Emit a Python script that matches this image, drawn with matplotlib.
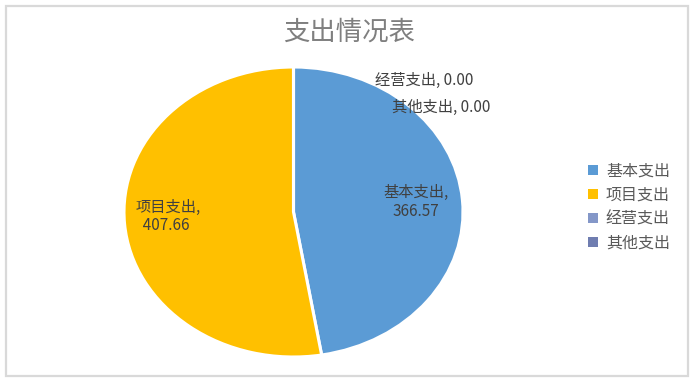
import matplotlib.pyplot as plt
from matplotlib.patches import Rectangle

plt.rcParams['font.family'] = ['Noto Sans CJK SC', 'DejaVu Sans']

categories = ["基本支出", "项目支出", "经营支出", "其他支出"]
values = [366.57, 407.66, 0.00, 0.00]
colors = ["#5B9BD5", "#FFC000", "#8497C8", "#6F7DB0"]

fig = plt.figure(figsize=(6.96, 3.83), dpi=100)

# outer chart frame
fig.patches.append(Rectangle((6 / 696, 7 / 383), 682 / 696, 370 / 383,
                             transform=fig.transFigure, fill=False,
                             edgecolor="#d9d9d9", linewidth=1.6))

ax = fig.add_axes([124 / 696, 26 / 383, 339 / 696, 290 / 383])
wedges, _ = ax.pie(values, colors=colors, startangle=90, counterclock=False,
                   wedgeprops=dict(edgecolor="white", linewidth=2.2))
ax.set_aspect("auto")
ax.set_xlim(-1, 1)
ax.set_ylim(-1, 1)

lab_color = "#404040"
fs = 11
ax.text(0.72, 0.07, f"{categories[0]},\n{values[0]:.2f}", ha="center", va="center",
        fontsize=fs, color=lab_color, linespacing=1.1)
ax.text(-0.93, -0.03, f"{categories[1]},\n  {values[1]:.2f}", ha="left", va="center",
        fontsize=fs, color=lab_color, linespacing=1.1)
ax.text(0.48, 0.91, f"{categories[2]}, {values[2]:.2f}", ha="left", va="center",
        fontsize=fs, color=lab_color)
ax.text(0.58, 0.72, f"{categories[3]}, {values[3]:.2f}", ha="left", va="center",
        fontsize=fs, color=lab_color)

fig.text(349 / 696, 1 - 32 / 383, "支出情况表", ha="center", va="center",
         fontsize=19, color="#7f7f7f")

leg = fig.legend(wedges, categories, loc="center left",
                 bbox_to_anchor=(574 / 696, 1 - 207 / 383), frameon=False,
                 fontsize=11.5, handlelength=0.6, handleheight=0.6,
                 labelspacing=0.45, handletextpad=0.5, labelcolor="#595959")
for h in leg.legend_handles:
    h.set_edgecolor("none")

fig.savefig("out.png", dpi=100)
